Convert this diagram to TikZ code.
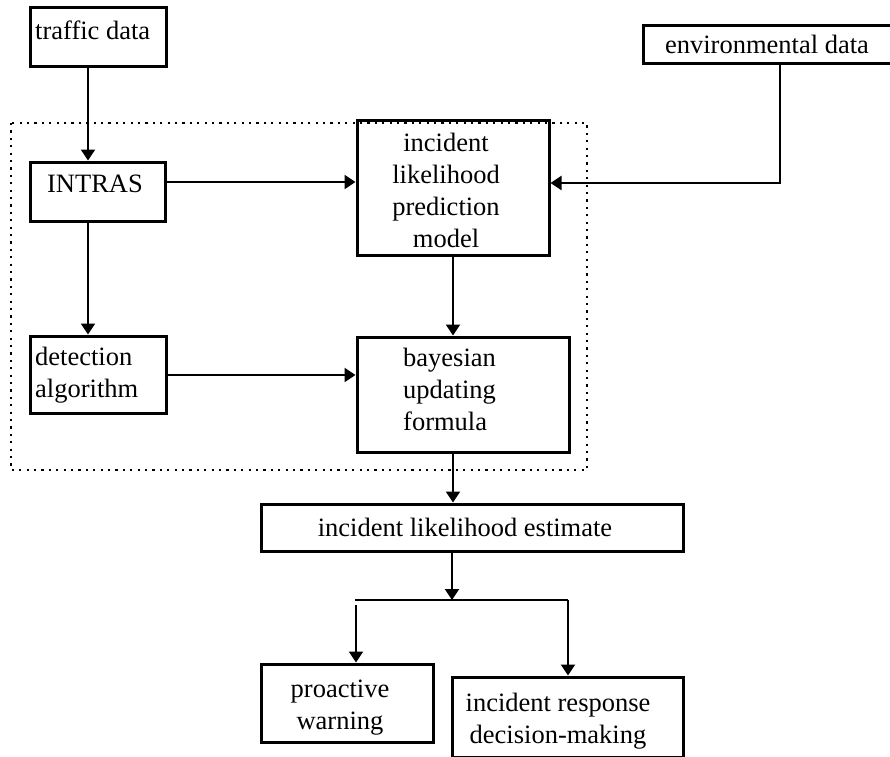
\documentclass[tikz,border=0pt]{standalone}
\usepackage{fontspec}
\setmainfont{Liberation Serif}
\usetikzlibrary{arrows.meta}
\begin{document}
\begin{tikzpicture}[x=1pt,y=-1pt,
  box/.style={draw, line width=3pt, inner sep=0pt, minimum width=#1},
  txt/.style={inner sep=0pt, font=\fontsize{26.5}{32}\selectfont},
  conn/.style={line width=2.2pt},
  arr/.style={line width=2.2pt, -{Triangle[width=14pt,length=11pt]}},
  group/.style={line width=2.4pt, dash pattern=on 2.2pt off 5.2pt}]
\useasboundingbox (0,0) rectangle (890,756);
% dotted group
\draw[group] (11,123) rectangle (587,470);
% boxes
\node[box=136pt, minimum height=59pt] (traffic) at (98,36.5) {};
\node[box=250pt, minimum height=38pt] (env) at (768,44) {};
\node[box=135pt, minimum height=59pt] (intras) at (97.5,191.5) {};
\node[box=192pt, minimum height=135pt] (ilpm) at (453,187.5) {};
\node[box=136pt, minimum height=77pt] (detect) at (98,374.5) {};
\node[box=212pt, minimum height=115pt] (bayes) at (463,394.5) {};
\node[box=422pt, minimum height=47pt] (estimate) at (472,527.5) {};
\node[box=172pt, minimum height=78pt] (proactive) at (347,703) {};
\node[box=231pt, minimum height=80pt] (response) at (567.5,717) {};
% texts
\node[txt, anchor=base west] (traffic-t) at (35,39) {traffic data};
\node[txt, anchor=base] (env-t) at (767,53) {environmental data};
\node[txt, anchor=base] (intras-t) at (95,192) {INTRAS};
\node[txt, align=center] (ilpm-t) at (446,190) {incident\\likelihood\\prediction\\model};
\node[txt, align=left, anchor=west] (detect-t) at (35,375) {detection\\algorithm};
\node[txt, align=left, anchor=west] (bayes-t) at (403,389) {bayesian\\updating\\formula};
\node[txt, anchor=base] (estimate-t) at (465,536) {incident likelihood estimate};
\node[txt, align=center] (proactive-t) at (340,708) {proactive\\warning};
\node[txt, align=center] (response-t) at (558,721) {incident response\\decision-making};
% junction coordinates
\coordinate (split) at (452,600);
\coordinate (splitL) at (355,600);
\coordinate (splitR) at (568,600);
\coordinate (leftstart) at (356,605);
% connectors
\draw[arr] (traffic.south -| 88,0) -- (intras.north -| 88,0);
\draw[arr] (intras.east |- 0,182) -- (ilpm.west |- 0,182);
\draw[arr] (env.south -| 780,0) -- (780,183) -- (ilpm.east |- 0,183);
\draw[arr] (ilpm.south -| 453,0) -- (bayes.north -| 453,0);
\draw[arr] (intras.south -| 88,0) -- (detect.north -| 88,0);
\draw[arr] (detect.east |- 0,375) -- (bayes.west |- 0,375);
\draw[arr] (bayes.south -| 453,0) -- (estimate.north -| 453,0);
\draw[arr] (estimate.south -| 452,0) -- (split);
\draw[conn] (splitL) -- (splitR);
\draw[arr] (leftstart) -- (proactive.north -| leftstart);
\draw[arr] (splitR) -- (response.north -| splitR);
\end{tikzpicture}
\end{document}
